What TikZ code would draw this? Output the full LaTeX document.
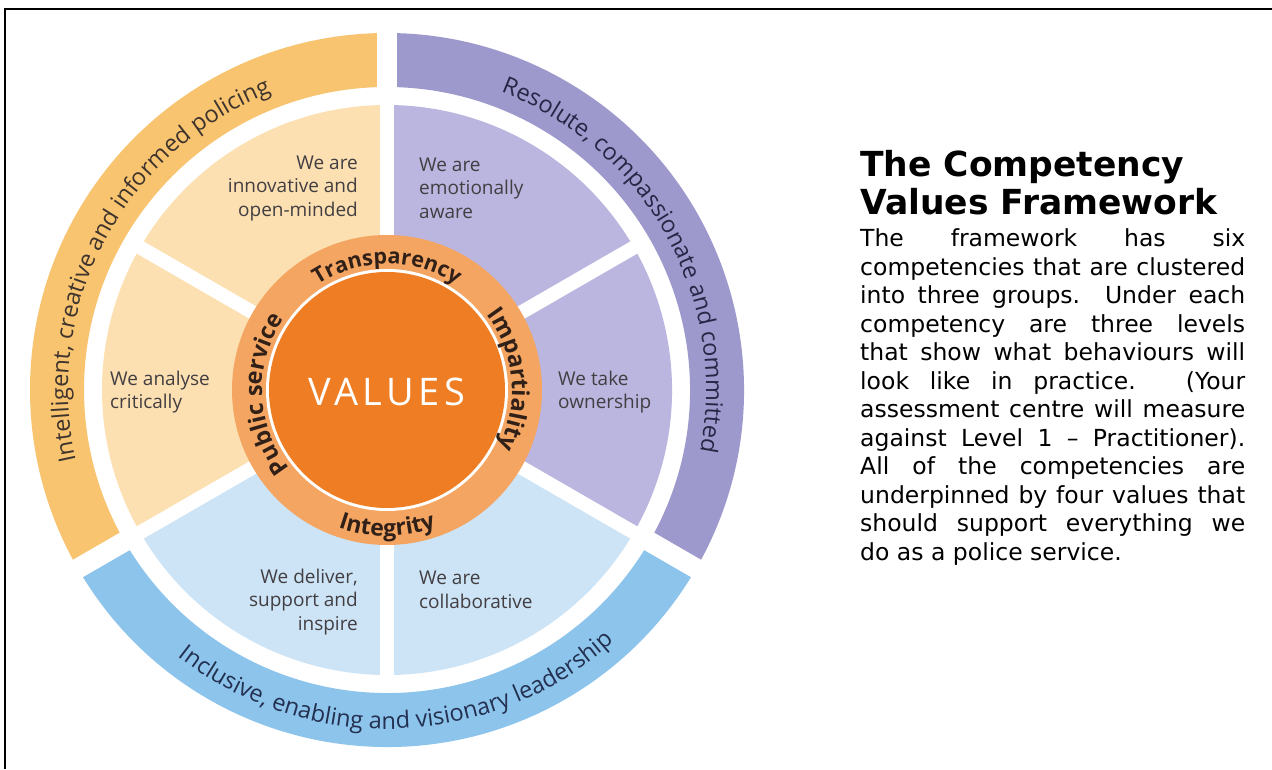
\documentclass[tikz,border=0pt]{standalone}
\usepackage{fontspec}
\setmainfont{Open Sans}
\newfontfamily\dejavu{DejaVu Sans}
\newfontfamily\valfont[LetterSpace=12]{Open Sans}
\usetikzlibrary{decorations.text}
\definecolor{ringO}{RGB}{248,196,112}
\definecolor{segO}{RGB}{252,224,178}
\definecolor{ringP}{RGB}{158,153,204}
\definecolor{segP}{RGB}{186,182,223}
\definecolor{ringB}{RGB}{141,196,236}
\definecolor{segB}{RGB}{204,228,246}
\definecolor{valring}{RGB}{244,165,98}
\definecolor{valdark}{RGB}{239,125,35}
\definecolor{segtxt}{RGB}{66,62,66}
\definecolor{ringtxtO}{RGB}{62,52,45}
\definecolor{ringtxtP}{RGB}{40,38,70}
\definecolor{ringtxtB}{RGB}{35,48,80}
\definecolor{valtxt}{RGB}{48,32,24}
\begin{document}
\begin{tikzpicture}[x=1pt,y=1pt,
  segtext/.style={font=\fontsize{19}{23.5}\selectfont, text=segtxt, inner sep=0pt},
  ringband/.style={line width=54pt},
  gapline/.style={white, line width=#1},
  ringlabel/.style 2 args={decorate, decoration={text along path, text align=center,
      text={|\fontsize{23.5}{23.5}\selectfont\color{#1}|#2}}},
  vallabel/.style 2 args={decorate, decoration={text along path, text align=center,
      text={|\fontsize{#1}{#1}\selectfont\bfseries\color{valtxt}|#2}}},
  bodyline/.style={anchor=base west, inner sep=0pt, font=\dejavu\fontsize{23.5}{28.5}\selectfont},
  titleline/.style={anchor=base west, inner sep=0pt, font=\dejavu\bfseries\fontsize{34.5}{38}\selectfont},
]
\useasboundingbox (0,0) rectangle (1272,769);
\fill[white] (0,0) rectangle (1272,769);
\coordinate (C) at (387,379);

% outer ring bands
\draw[ringband, ringO] ([shift={(90:330)}]C) arc[start angle=90, end angle=210, radius=330];
\draw[ringband, ringP] ([shift={(-30:330)}]C) arc[start angle=-30, end angle=90, radius=330];
\draw[ringband, ringB] ([shift={(210:330)}]C) arc[start angle=210, end angle=330, radius=330];

% competency segments
\fill[segO] (C) -- ([shift={(90:285)}]C) arc[start angle=90, end angle=210, radius=285] -- cycle;
\fill[segP] (C) -- ([shift={(-30:285)}]C) arc[start angle=-30, end angle=90, radius=285] -- cycle;
\fill[segB] (C) -- ([shift={(210:285)}]C) arc[start angle=210, end angle=330, radius=285] -- cycle;

% white separators
\foreach \a in {30,90,150,210,270,330}
  \draw[gapline=14pt] (C) -- ([shift={(\a:295)}]C);
\foreach \a in {90,210,330}
  \draw[gapline=20pt] ([shift={(\a:290)}]C) -- ([shift={(\a:370)}]C);

% values circle
\fill[valring] (C) circle[radius=155];
\fill[white] (C) circle[radius=121];
\fill[valdark] (C) circle[radius=118];
\node[text=white, inner sep=0pt, font=\valfont\fontsize{38}{38}\selectfont] (values) at ([yshift=-2pt]C) {VALUES};

% value labels
\path[vallabel={21.5}{Transparency}] ([shift={(150:126)}]C) arc[start angle=150, end angle=30, radius=126];
\path[vallabel={23.5}{Impartiality}] ([shift={(50:125)}]C) arc[start angle=50, end angle=-40, radius=125];
\path[vallabel={23.5}{Public service}] ([shift={(230:125)}]C) arc[start angle=230, end angle=134, radius=125];
\path[vallabel={23}{Integrity}] ([shift={(225:146)}]C) arc[start angle=225, end angle=315, radius=146];

% ring labels
\path[ringlabel={ringtxtO}{Intelligent, creative and informed policing}] ([shift={(205:319)}]C) arc[start angle=205, end angle=99, radius=319];
\path[ringlabel={ringtxtP}{Resolute, compassionate and committed}] ([shift={(85:319)}]C) arc[start angle=85, end angle=-27, radius=319];
\path[ringlabel={ringtxtB}{Inclusive, enabling and visionary leadership}] ([shift={(215:339)}]C) arc[start angle=215, end angle=329, radius=339];

% segment texts
\node[segtext, anchor=east, align=right] (s1) at (358,580.5) {We are\\innovative and\\open-minded};
\node[segtext, anchor=west, align=left] (s2) at (419,581) {We are\\emotionally\\aware};
\node[segtext, anchor=west, align=left] (s3) at (110,377) {We analyse\\critically};
\node[segtext, anchor=west, align=left] (s4) at (558,377) {We take\\ownership};
\node[segtext, anchor=east, align=right] (s5) at (358,167) {We deliver,\\support and\\inspire};
\node[segtext, anchor=west, align=left] (s6) at (419,179) {We are\\collaborative};

% right-hand text
\node[titleline] (t1) at (860,592) {The Competency};
\node[titleline] (t2) at (860,554) {Values Framework};
\node[bodyline] (b1) at (860,522) {\makebox[385pt][s]{The framework has six}};
\node[bodyline] (b2) at (860,493.5) {\makebox[385pt][s]{competencies that are clustered}};
\node[bodyline] (b3) at (860,465) {\makebox[385pt][s]{into three groups. Under each}};
\node[bodyline] (b4) at (860,436.5) {\makebox[385pt][s]{competency are three levels}};
\node[bodyline] (b5) at (860,408) {\makebox[385pt][s]{that show what behaviours will}};
\node[bodyline] (b6) at (860,379.5) {\makebox[385pt][s]{look like in practice. (Your}};
\node[bodyline] (b7) at (860,351) {\makebox[385pt][s]{assessment centre will measure}};
\node[bodyline] (b8) at (860,322.5) {\makebox[385pt][s]{against Level 1 – Practitioner).}};
\node[bodyline] (b9) at (860,294) {\makebox[385pt][s]{All of the competencies are}};
\node[bodyline] (b10) at (860,265.5) {\makebox[385pt][s]{underpinned by four values that}};
\node[bodyline] (b11) at (860,237) {\makebox[385pt][s]{should support everything we}};
\node[bodyline] (b12) at (860,208.5) {do as a police service.};

% frame
\draw[line width=2.5pt] (5,0) -- (5,760) -- (1272,760);
\end{tikzpicture}
\end{document}
